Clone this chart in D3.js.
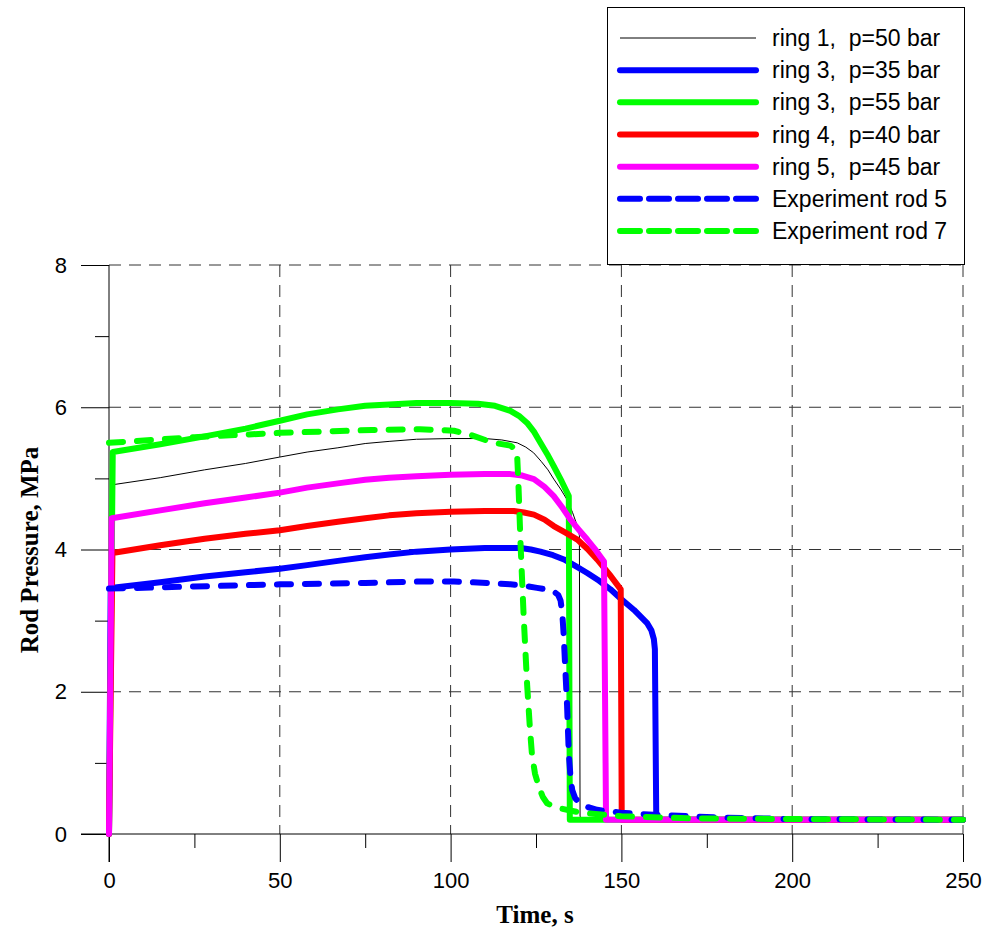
<!DOCTYPE html>
<html>
<head>
<meta charset="utf-8">
<script src="https://cdn.jsdelivr.net/npm/d3@7"></script>
<style>
  html, body { margin: 0; padding: 0; background: #fff; }
  svg { display: block; }
  text { white-space: pre; }
</style>
</head>
<body>
<svg id="chart" width="984" height="933"></svg>
<script>
// ---------------- DATA ----------------
const xTicks = [0, 50, 100, 150, 200, 250];
const xMinorTicks = [25, 75, 125, 175, 225];
const yTicks = [0, 2, 4, 6, 8];
const yMinorTicks = [1, 3, 5, 7];

const legendLabels = [
  "ring 1,  p=50 bar",
  "ring 3,  p=35 bar",
  "ring 3,  p=55 bar",
  "ring 4,  p=40 bar",
  "ring 5,  p=45 bar",
  "Experiment rod 5",
  "Experiment rod 7"
];

// [time s, pressure MPa]
const ring1_p50 = [[0,0],[1,4.91],[15,5.01],[28,5.12],[40,5.21],[50,5.30],[58,5.37],[67,5.43],[75,5.49],[82,5.52],[90,5.55],[100,5.56],[110,5.56],[115,5.54],[119.5,5.50],[122,5.44],[124.3,5.36],[126.5,5.24],[128.5,5.12],[130.2,4.99],[132.2,4.85],[134.1,4.70],[135.7,4.52],[137.1,4.33],[137.7,4.2],[137.9,0.25],[138.6,0.2],[250,0.2]];
const ring3_p35 = [[0,0],[0.5,3.46],[15,3.54],[28,3.62],[40,3.68],[50,3.73],[58,3.78],[67,3.84],[75,3.89],[82,3.93],[90,3.97],[100,4.0],[110,4.02],[120.5,4.02],[123.5,4.0],[126.3,3.97],[130,3.92],[133.2,3.86],[136.5,3.77],[140,3.67],[143.5,3.56],[146.8,3.44],[150,3.30],[153.7,3.15],[157.6,2.96],[158.8,2.86],[159.5,2.74],[159.8,2.6],[160.2,0.25],[161,0.2],[250,0.2]];
const ring3_p55 = [[0,0],[1.1,5.37],[15,5.48],[28,5.59],[40,5.70],[50,5.81],[58,5.90],[67,5.97],[75,6.02],[82,6.04],[90,6.06],[100,6.06],[108,6.05],[113,6.02],[117.5,5.95],[120,5.88],[122.4,5.78],[124.5,5.65],[126.3,5.50],[128.3,5.34],[130.2,5.17],[132.5,4.96],[134.6,4.75],[134.9,0.2],[250,0.2]];
const ring4_p40 = [[0,0],[1,3.95],[15,4.06],[28,4.15],[40,4.22],[50,4.27],[58,4.33],[67,4.39],[75,4.44],[82,4.48],[90,4.51],[100,4.53],[110,4.54],[118.5,4.54],[121.5,4.52],[124.4,4.49],[127.5,4.42],[130.2,4.33],[133.5,4.24],[137.1,4.14],[140,4.01],[142.9,3.86],[146.5,3.65],[149.8,3.44],[150.1,0.2],[250,0.2]];
const ring5_p45 = [[0,0],[0.8,4.44],[15,4.55],[28,4.65],[40,4.73],[50,4.80],[58,4.87],[67,4.93],[75,4.98],[82,5.01],[90,5.03],[100,5.05],[110,5.06],[117.5,5.06],[121,5.04],[124.4,4.99],[127.5,4.88],[130.2,4.75],[132.7,4.59],[135.1,4.42],[137.5,4.28],[140,4.14],[142.5,3.99],[144.9,3.83],[145.5,0.2],[250,0.2]];
const expRod5 = [[0,3.45],[25,3.48],[50,3.51],[75,3.53],[91,3.55],[101,3.55],[110.7,3.53],[117.5,3.51],[121.5,3.49],[125.3,3.46],[128,3.44],[130.2,3.41],[131.5,3.36],[132.2,3.28],[132.7,3.1],[133.1,2.8],[133.6,2.3],[134.1,1.8],[134.6,1.13],[135.1,0.8],[135.6,0.62],[136.5,0.5],[138,0.43],[140,0.38],[142.9,0.34],[149.8,0.30],[159.5,0.27],[180,0.23],[200,0.21],[250,0.2]];
const expRod7 = [[0,5.50],[25,5.58],[50,5.64],[77,5.68],[91,5.69],[101,5.67],[106,5.61],[110.7,5.53],[114,5.49],[117.5,5.46],[119,5.41],[119.5,5.30],[119.8,4.99],[120.5,4.05],[121.4,3.05],[122.4,2.1],[123.2,1.5],[123.8,1.13],[124.7,0.85],[125.8,0.67],[127,0.52],[128.3,0.43],[130,0.39],[132.2,0.36],[138,0.30],[150,0.25],[170,0.22],[200,0.21],[250,0.2]];

// ---------------- CHART ----------------
const svg = d3.select("#chart");
const x = d3.scaleLinear().domain([0, 250]).range([109, 963]);
const y = d3.scaleLinear().domain([0, 8]).range([834, 265]);

const tickFont = "'Liberation Sans', Arial, sans-serif";
const titleFont = "'Liberation Serif', 'Times New Roman', serif";

// gridlines
const grid = svg.append("g").attr("stroke", "#333").attr("stroke-width", 1).attr("stroke-dasharray", "12,8");
grid.selectAll(".vg").data(xTicks.filter(d => d > 0)).enter().append("line")
  .attr("x1", d => x(d)).attr("x2", d => x(d))
  .attr("y1", y(8)).attr("y2", y(0));
grid.selectAll(".hg").data(yTicks.filter(d => d > 0)).enter().append("line")
  .attr("x1", x(0)).attr("x2", x(250))
  .attr("y1", d => y(d)).attr("y2", d => y(d));

// axes
const xAxis = d3.axisBottom(x).tickValues(xTicks).tickSize(28).tickPadding(10).tickFormat(d3.format("d"));
const gx = svg.append("g").attr("transform", `translate(0,${y(0)})`).call(xAxis);
gx.select(".domain").attr("d", `M${x(0) - 28},0H${x(250)}`).attr("stroke", "#000");
gx.selectAll(".tick line").attr("stroke", "#000");
gx.selectAll(".tick text").attr("font-family", tickFont).attr("font-size", 22).attr("fill", "#000");
const xMinor = d3.axisBottom(x).tickValues(xMinorTicks).tickSize(14).tickFormat("");
const gxm = svg.append("g").attr("transform", `translate(0,${y(0)})`).call(xMinor);
gxm.select(".domain").remove();
gxm.selectAll(".tick line").attr("stroke", "#000");

const yAxis = d3.axisLeft(y).tickValues(yTicks).tickSize(28).tickPadding(14).tickFormat(d3.format("d"));
const gy = svg.append("g").attr("transform", `translate(${x(0)},0)`).call(yAxis);
gy.select(".domain").attr("d", `M0,${y(8)}V${y(0) + 28}`).attr("stroke", "#000");
gy.selectAll(".tick line").attr("stroke", "#000");
gy.selectAll(".tick text").attr("font-family", tickFont).attr("font-size", 22).attr("fill", "#000");
const yMinor = d3.axisLeft(y).tickValues(yMinorTicks).tickSize(14).tickFormat("");
const gym = svg.append("g").attr("transform", `translate(${x(0)},0)`).call(yMinor);
gym.select(".domain").remove();
gym.selectAll(".tick line").attr("stroke", "#000");

// axis titles
svg.append("text").attr("x", 535).attr("y", 923).attr("text-anchor", "middle")
  .attr("font-family", titleFont).attr("font-weight", "bold").attr("font-size", 25)
  .text("Time, s");
svg.append("text").attr("transform", "translate(38,550) rotate(-90)").attr("text-anchor", "middle")
  .attr("font-family", titleFont).attr("font-weight", "bold").attr("font-size", 25)
  .text("Rod Pressure, MPa");

// series
const series = [
  { data: ring1_p50, color: "#000", width: 1, dash: null },
  { data: ring3_p35, color: "#0000ff", width: 6, dash: null },
  { data: ring3_p55, color: "#00ff00", width: 6, dash: null },
  { data: ring4_p40, color: "#ff0000", width: 6, dash: null },
  { data: ring5_p45, color: "#ff00ff", width: 6, dash: null },
  { data: expRod5, color: "#0000ff", width: 6, dash: "14,14" },
  { data: expRod7, color: "#00ff00", width: 6, dash: "14,14" }
];
const line = d3.line().x(d => x(d[0])).y(d => y(d[1])).curve(d3.curveLinear);
series.forEach(s => {
  svg.append("path").datum(s.data)
    .attr("d", line)
    .attr("fill", "none")
    .attr("stroke", s.color)
    .attr("stroke-width", s.width)
    .attr("stroke-linejoin", "round")
    .attr("stroke-linecap", "round")
    .attr("stroke-dasharray", s.dash);
});

// legend
const lg = svg.append("g");
lg.append("rect").attr("x", 607.5).attr("y", 7.5).attr("width", 357).attr("height", 257)
  .attr("fill", "#fff").attr("stroke", "#000").attr("stroke-width", 1);
const legendRows = legendLabels.map((label, i) => ({ label, s: series[i], i }));
const ly = d3.scaleLinear().domain([0, 6]).range([38, 231]);
legendRows.forEach(r => {
  lg.append("line")
    .attr("x1", 620).attr("x2", 756)
    .attr("y1", ly(r.i)).attr("y2", ly(r.i))
    .attr("stroke", r.s.color).attr("stroke-width", r.s.width)
    .attr("stroke-linecap", r.s.width > 1 ? "round" : "butt")
    .attr("stroke-dasharray", r.s.dash ? "20,9" : null);
  lg.append("text").attr("x", 772).attr("y", ly(r.i)).attr("dy", "0.35em")
    .attr("font-family", tickFont).attr("font-size", 23).attr("fill", "#000")
    .text(r.label);
});
</script>
</body>
</html>
